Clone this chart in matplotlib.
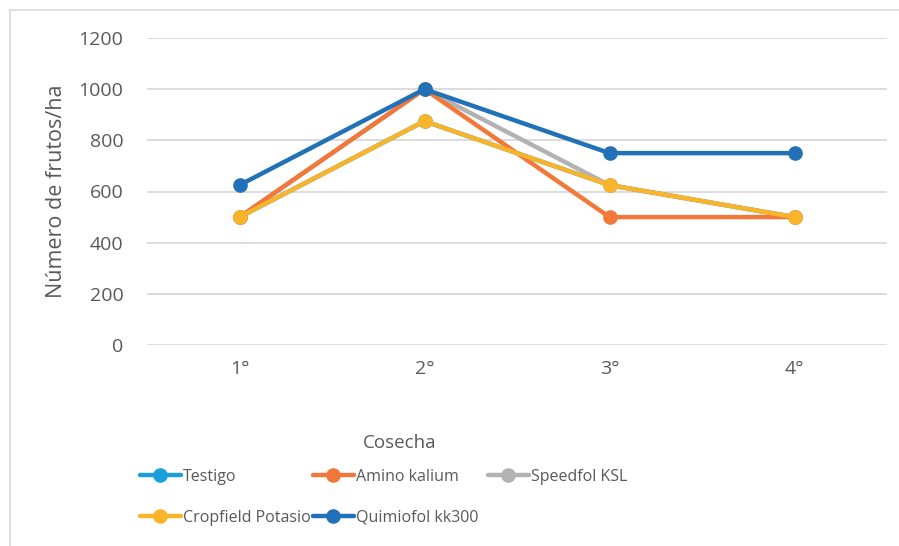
import matplotlib.pyplot as plt
from matplotlib.patches import Rectangle

plt.rcParams['font.family'] = ['Open Sans', 'DejaVu Sans']

cosechas = ['1°', '2°', '3°', '4°']
testigo = [500, 875, 625, 500]
amino_kalium = [500, 1000, 500, 500]
speedfol_ksl = [500, 1000, 625, 500]
cropfield_potasio = [500, 875, 625, 500]
quimiofol_kk300 = [625, 1000, 750, 750]

# name, values, colour, z-order (Amino kalium sits over Speedfol KSL)
series = [
    ('Testigo', testigo, '#1A9FDB', 2),
    ('Amino kalium', amino_kalium, '#F2783A', 4),
    ('Speedfol KSL', speedfol_ksl, '#B2B2B2', 3),
    ('Cropfield Potasio', cropfield_potasio, '#F9B429', 5),
    ('Quimiofol kk300', quimiofol_kk300, '#2171B8', 6),
]

grey = '#595959'
W, H = 899, 546

fig = plt.figure(figsize=(W / 100, H / 100), dpi=100)
ax = fig.add_axes([147 / W, 1 - 345 / H, 740 / W, 307 / H])

# chart frame (cut off at right and bottom like the screenshot)
fig.patches.append(Rectangle((10 / W, -0.1), 1.2, 1 - 10 / H + 0.1, transform=fig.transFigure,
                             fill=False, edgecolor='#D9D9D9', linewidth=1.2))

x = range(len(cosechas))
handles = {}
for name, vals, col, z in series:
    h, = ax.plot(x, vals, color=col, linewidth=3.2, marker='o', markersize=9.5,
                 solid_capstyle='round', label=name, zorder=z)
    handles[name] = h

ax.set_xlim(-0.5, 3.5)
ax.set_ylim(0, 1200)
ax.set_yticks(range(0, 1201, 200))
ax.set_xticks(list(x))
ax.set_xticklabels(cosechas)
ax.grid(axis='y', color='#D9D9D9', linewidth=1.3)
ax.set_axisbelow(True)
for s in ax.spines.values():
    s.set_visible(False)
ax.tick_params(length=0, labelsize=14, labelcolor=grey)
ax.tick_params(axis='y', pad=17)
ax.tick_params(axis='x', pad=11)

fig.text(57 / W, 1 - 191.5 / H, 'Número de frutos/ha', rotation=90, ha='center', va='center',
         fontsize=15.5, color=grey)
fig.text(400 / W, 1 - 443 / H, 'Cosecha', ha='center', va='center', fontsize=13.5, color=grey)

# legend entries placed like Excel's row-major layout
legend_pos = {
    'Testigo': (140, 477),
    'Amino kalium': (313, 477),
    'Speedfol KSL': (488, 477),
    'Cropfield Potasio': (140, 518),
    'Quimiofol kk300': (313, 518),
}
for name, (lx, ly) in legend_pos.items():
    leg = fig.legend([handles[name]], [name], frameon=False, loc='center left',
                     bbox_to_anchor=(lx / W, 1 - ly / H), borderpad=0, borderaxespad=0,
                     fontsize=11.5, labelcolor=grey, handlelength=2.55, handletextpad=0.15)

fig.savefig('out.png', dpi=100)
